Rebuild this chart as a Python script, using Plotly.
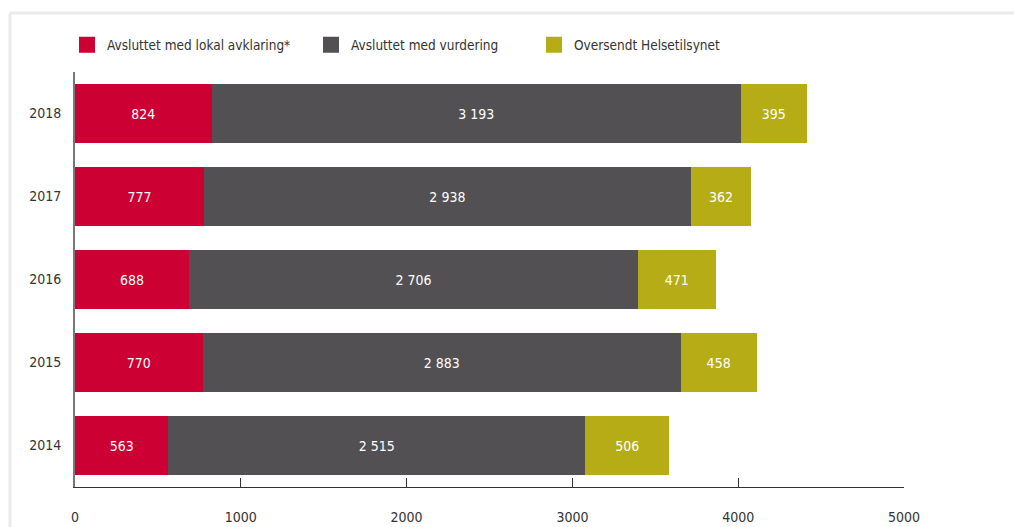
import plotly.graph_objects as go

years = ["2014", "2015", "2016", "2017", "2018"]
lokal = [563, 770, 688, 777, 824]
vurdering = [2515, 2883, 2706, 2938, 3193]
oversendt = [506, 458, 471, 362, 395]
series_names = ["Avsluttet med lokal avklaring*", "Avsluttet med vurdering", "Oversendt Helsetilsynet"]
colors = ["#cc0033", "#525053", "#b5ac16"]
x_ticks = [0, 1000, 2000, 3000, 4000, 5000]

FONT = "Liberation Sans Narrow, DejaVu Sans Condensed, Roboto, sans-serif"

def fmt(v):
    return f"{v:,}".replace(",", " ")

W, H = 1014, 527
ml, mr, mt, mb = 75, W - 904, 72, H - 487
pw, ph = W - ml - mr, H - mt - mb

fig = go.Figure()
for name, vals, col in zip(series_names, [lokal, vurdering, oversendt], colors):
    fig.add_trace(go.Bar(
        y=years, x=vals, orientation="h", name=name,
        marker=dict(color=col, line=dict(width=0)),
        text=[fmt(v) for v in vals], textposition="inside",
        insidetextanchor="middle",
        textfont=dict(color="white", size=14, family=FONT),
        showlegend=False, width=0.72,
    ))

legend_ids = ["legend", "legend2", "legend3"]
legend_px = [78, 322, 545]
for name, col, lid in zip(series_names, colors, legend_ids):
    fig.add_trace(go.Scatter(
        x=[None], y=[None], mode="markers", name=name,
        marker=dict(symbol="square", size=16, color=col),
        legend=lid, showlegend=True,
    ))

legend_common = dict(
    orientation="h", yanchor="middle", xanchor="left",
    font=dict(family=FONT, size=13.5, color="#333333"),
    bgcolor="rgba(0,0,0,0)", itemsizing="trace", itemwidth=30,
)
ly = (487 - 45) / ph
layout_legends = {}
for lid, px in zip(legend_ids, legend_px):
    layout_legends[lid] = dict(legend_common, x=(px - ml - 11) / pw, y=ly)

# light frame
fx0 = (10 - ml) / pw
fy1 = (487 - 13) / ph
fig.add_shape(type="line", xref="paper", yref="paper", x0=fx0, x1=(W + 10 - ml) / pw,
              y0=fy1, y1=fy1, line=dict(color="#ebebeb", width=3), layer="below")
fig.add_shape(type="line", xref="paper", yref="paper", x0=fx0, x1=fx0,
              y0=fy1, y1=-0.2, line=dict(color="#ebebeb", width=3), layer="below")

fig.update_layout(
    width=W, height=H, barmode="stack",
    margin=dict(l=ml, r=mr, t=mt, b=mb, autoexpand=False),
    paper_bgcolor="white", plot_bgcolor="white",
    font=dict(family=FONT, size=14, color="#333333"),
    xaxis=dict(range=[0, 5000], tickvals=x_ticks, ticktext=[str(t) for t in x_ticks],
               showgrid=False, zeroline=False, showline=True, linecolor="#333333",
               linewidth=1, ticks="inside", ticklen=9, tickcolor="#333333",
               ticklabelstandoff=17, automargin=False,
               tickfont=dict(size=14, color="#333333")),
    yaxis=dict(range=[-0.5, 4.5], showgrid=False, zeroline=False, showline=True,
               linecolor="#777777", linewidth=2, ticks="", ticklabelstandoff=9,
               automargin=False, tickfont=dict(size=14, color="#333333")),
    **layout_legends,
)

fig.write_html("out.html", config={"displayModeBar": False},
               post_script="document.body.style.margin='0';document.body.style.padding='0';")
